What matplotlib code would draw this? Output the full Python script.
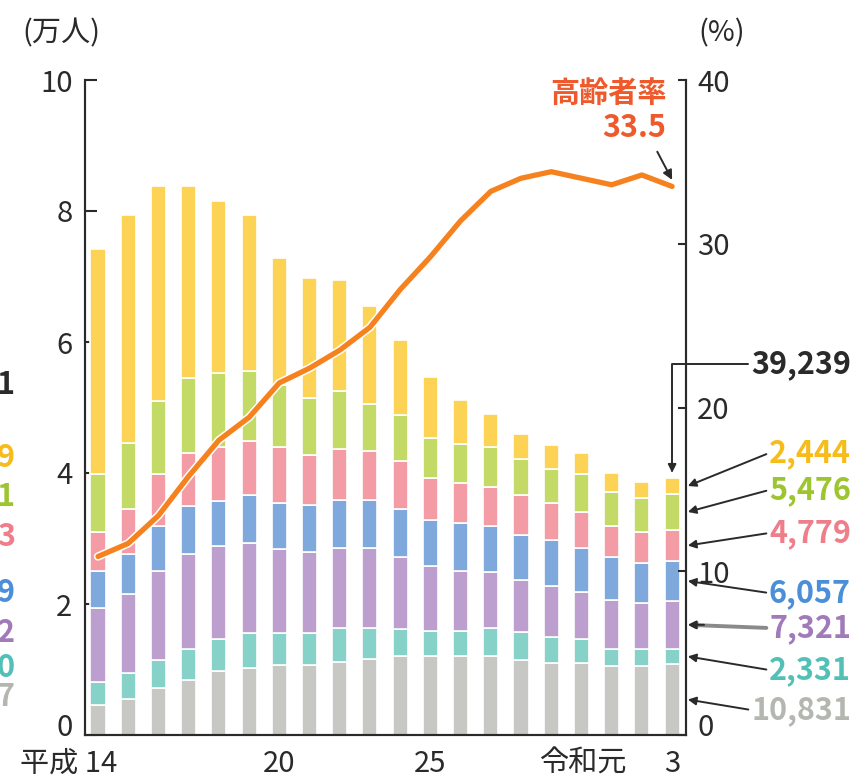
import matplotlib.pyplot as plt
import matplotlib.patheffects as pe
import matplotlib.transforms as mtransforms
import numpy as np

plt.rcParams['font.family'] = ['Noto Sans CJK JP', 'DejaVu Sans']

W, H = 857, 781

# 年次 (平成14年 ~ 令和3年)
years = ['14', '15', '16', '17', '18', '19', '20', '21', '22', '23',
         '24', '25', '26', '27', '28', '29', '30', '令和元', '2', '3']
tick_idx = [0, 6, 11, 17, 19]
tick_text = ['平成 14', '20', '25', '令和元', '3']

# 年齢層別 人員 (人)
age70 = [4600, 5500, 7100, 8400, 9800, 10300, 10700, 10700, 11200, 11600,
         12000, 12000, 12000, 12100, 11500, 11000, 11000, 10600, 10600, 10831]
age65 = [3500, 3900, 4400, 4800, 4800, 5200, 4800, 4800, 5200, 4800,
         4200, 3900, 3900, 4200, 4300, 4000, 3600, 2600, 2600, 2331]
age50 = [11300, 12100, 13500, 14400, 14300, 13800, 12900, 12500, 12100, 12100,
         10900, 9900, 9100, 8600, 7900, 7800, 7300, 7400, 6900, 7321]
age40 = [5600, 6200, 6900, 7400, 6800, 7400, 7000, 7100, 7400, 7400,
         7400, 7000, 7300, 7000, 6800, 6900, 6600, 6500, 6200, 6057]
age30 = [6000, 6800, 7900, 8100, 8300, 8200, 8600, 7600, 7700, 7400,
         7400, 6500, 6100, 6000, 6100, 5700, 5600, 4800, 4700, 4779]
age20 = [8900, 10100, 11200, 11400, 11200, 10600, 9400, 8800, 8900, 7300,
         7000, 6100, 6100, 6100, 5600, 5200, 5700, 5200, 5200, 5476]
age14 = [34300, 34800, 32800, 29300, 26400, 23900, 19500, 18300, 17000, 14900,
         11400, 9200, 6600, 5000, 3800, 3700, 3200, 2900, 2500, 2444]

# 高齢者率 (%)
rate = [10.9, 11.7, 13.4, 15.8, 18.0, 19.4, 21.5, 22.4, 23.5, 24.9,
        27.2, 29.2, 31.4, 33.2, 34.0, 34.4, 34.0, 33.6, 34.2, 33.5]

groups = [age70, age65, age50, age40, age30, age20, age14]
bar_colors = ['#c7c7c4', '#86d2c9', '#bc9fce', '#7fa9dd', '#f39ca5', '#c3da66', '#fdd355']
text_colors = ['#b3b7b0', '#52c0b6', '#a07ab9', '#4b8fd8', '#ef7e8b', '#9cc530', '#f7bc1a']
# 左端の数値 (一の位のみ)
left_digits = ['7', '0', '2', '9', '3', '1', '9']
left_y = [697, 668, 633, 593, 537, 497, 458]

ink = '#2a2a2a'
orange = '#f5821f'
red_orange = '#ee5a2b'

fig = plt.figure(figsize=(W / 100, H / 100), dpi=100)
ax = fig.add_axes([85 / W, 46 / H, 601 / W, 655 / H])
ax2 = ax.twinx()

x = np.arange(len(years))
bottom = np.zeros(len(years))
for vals, c in zip(groups, bar_colors):
    v = np.array(vals) / 1e4
    ax.bar(x, v, 0.5, bottom=bottom, color=c, edgecolor='white', linewidth=1.2, zorder=2)
    bottom += v
total = bottom

ax2.plot(x, rate, color=orange, lw=3.8, solid_capstyle='round', zorder=5,
         path_effects=[pe.Stroke(linewidth=6, foreground='white'), pe.Normal()])

ax.set_xlim(-0.43, len(years) - 1 + 0.46)
ax.set_ylim(0, 10)
ax2.set_ylim(0, 40)
ax.set_yticks(range(0, 11, 2))
ax2.set_yticks(range(0, 41, 10))
ax.set_xticks(tick_idx)
ax.set_xticklabels(tick_text)

for a in (ax, ax2):
    for s in a.spines.values():
        s.set_color(ink)
        s.set_linewidth(1.5)
    a.spines['top'].set_visible(False)
ax.tick_params(axis='y', direction='in', length=8.5, width=1.5, color=ink,
               labelsize=21, labelcolor=ink, pad=9)
ax2.tick_params(axis='y', direction='in', length=6, width=1.5, color=ink,
                labelsize=21, labelcolor=ink, pad=8)
ax.tick_params(axis='x', length=0, labelsize=21, labelcolor=ink, pad=10)
ax.set_zorder(1)
ax2.set_zorder(2)
ax2.patch.set_visible(False)


def shift_label(lbl, dx, dy):
    lbl.set_transform(lbl.get_transform()
                      + mtransforms.ScaledTranslation(dx / 100, dy / 100, fig.dpi_scale_trans))


# 平成14 は「14」を棒の下に、令和元 は少し左寄せ
xlabels = ax.get_xticklabels()
for k, dx in ((0, 19), (3, 15)):
    xlabels[k].set_horizontalalignment('right')
    shift_label(xlabels[k], dx, 0)

# 0 の目盛ラベルは少し上げる
shift_label(ax.get_yticklabels()[0], 0, 10)
shift_label(ax2.get_yticklabels()[0], 0, 10)


def fx(px):
    return px / W


def fy(py):
    return 1 - py / H


fig.text(fx(22), fy(33), '(万人)', ha='left', va='center', fontsize=21, color=ink)
fig.text(fx(698), fy(33), '(%)', ha='left', va='center', fontsize=21, color=ink)

# 高齢者率 ラベル
fig.text(fx(667), fy(93), '高齢者率', ha='right', va='center', fontsize=21,
         color=red_orange, fontweight='bold')
ax2.annotate(f'{rate[-1]}', xy=(x[-1], rate[-1] + 0.4), xytext=(666, H - 128),
             textcoords='figure pixels', ha='right', va='center', fontsize=22,
             color=red_orange, fontweight='bold',
             arrowprops=dict(arrowstyle='-|>', color=ink, lw=1.4, mutation_scale=14,
                             shrinkA=4, shrinkB=0, relpos=(0.8, 0)))

# 令和3年の内訳
mids = np.cumsum([0] + [g[-1] for g in groups])
mids = (mids[:-1] + mids[1:]) / 2 / 1e4
label_y = [710, 670, 628, 593, 533, 490, 453]
for i, g in enumerate(groups):
    if i == 2:
        props = dict(arrowstyle='-|>', color='#8a8a8a', lw=2.8, mutation_scale=8,
                     shrinkA=0, shrinkB=0, relpos=(0, 0.5))
    else:
        props = dict(arrowstyle='-|>', color=ink, lw=1.4, mutation_scale=12,
                     shrinkA=0, shrinkB=0, relpos=(0, 0.5))
    ax.annotate(f'{g[-1]:,}', xy=(1.003, mids[i]), xycoords=('axes fraction', 'data'),
                xytext=(851, H - label_y[i]), textcoords='figure pixels',
                ha='right', va='center', fontsize=22, color=text_colors[i],
                fontweight='bold', annotation_clip=False, arrowprops=props)
    if i == 2:
        # 矢じりは黒
        ax.annotate('', xy=(1.003, mids[i]), xycoords=('axes fraction', 'data'),
                    xytext=(1.03, mids[i]), textcoords=('axes fraction', 'data'),
                    annotation_clip=False,
                    arrowprops=dict(arrowstyle='-|>', color=ink, lw=1.4, mutation_scale=12,
                                    shrinkA=0, shrinkB=0))

# 総数
ax.annotate(f'{int(round(total[-1] * 1e4)):,}', xy=(x[-1], total[-1] + 0.08),
            xytext=(851, H - 364), textcoords='figure pixels',
            ha='right', va='center', fontsize=22, color=ink, fontweight='bold',
            annotation_clip=False,
            arrowprops=dict(arrowstyle='-|>', color=ink, lw=1.4, mutation_scale=12,
                            shrinkA=0, shrinkB=0, relpos=(0, 0.5),
                            connectionstyle='angle,angleA=0,angleB=90,rad=0'))

# 平成14年の内訳 (左端)
fig.text(fx(15), fy(385), '1', ha='right', va='center', fontsize=22, color=ink, fontweight='bold')
for d, yy, c in zip(left_digits, left_y, text_colors):
    fig.text(fx(15), fy(yy), d, ha='right', va='center', fontsize=22, color=c, fontweight='bold')

fig.savefig('out.png', dpi=100, facecolor='white')
